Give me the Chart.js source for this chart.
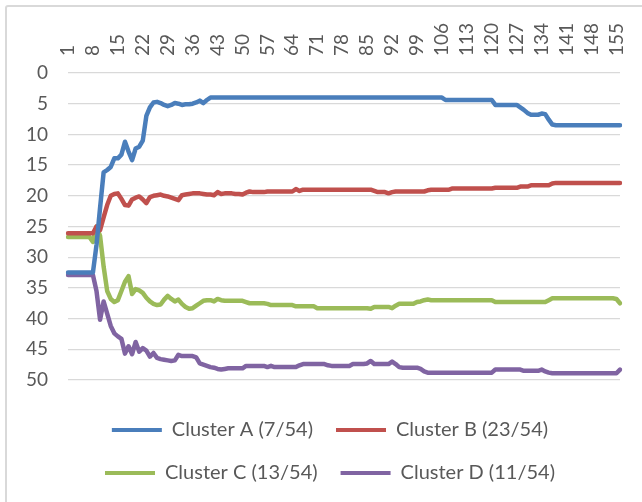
<!DOCTYPE html>
<html>
<head>
<meta charset="utf-8">
<script src="https://cdn.jsdelivr.net/npm/chart.js@4"></script>
<style>
  html, body { margin: 0; padding: 0; background: #fff; overflow: hidden; }
  #frame { position: absolute; left: 5px; top: 5px; width: 700px; height: 600px; border: 2px solid #d9d9d9; border-radius: 3px; }
  #wrap { position: absolute; left: 0; top: 0; width: 642px; height: 502px; }
</style>
</head>
<body>
<div id="frame"></div>
<div id="wrap"><canvas id="rankChart"></canvas></div>
<script>
const categories = Array.from({ length: 156 }, (_, i) => String(i + 1));
const tickLabels = ['1', '8', '15', '22', '29', '36', '43', '50', '57', '64', '71', '78', '85', '92', '99', '106', '113', '120', '127', '134', '141', '148', '155'];

const clusterA = [
  32.5, 32.5, 32.5, 32.5, 32.5, 32.5, 32.5, 32.5, 28, 22, 16.2, 15.8,
  15.3, 13.9, 13.9, 13.3, 11.2, 12.8, 14.2, 12.3, 12.0, 11.0, 7.0, 5.6,
  4.8, 4.7, 4.9, 5.2, 5.4, 5.2, 4.9, 5.0, 5.2, 5.1, 5.1, 5.0,
  4.8, 4.5, 4.9, 4.4, 4.0, 4, 4, 4, 4, 4, 4, 4,
  4, 4, 4, 4, 4, 4, 4, 4, 4, 4, 4, 4,
  4, 4, 4, 4, 4, 4, 4, 4, 4, 4, 4, 4,
  4, 4, 4, 4, 4, 4, 4, 4, 4, 4, 4, 4,
  4, 4, 4, 4, 4, 4, 4, 4, 4, 4, 4, 4,
  4, 4, 4, 4, 4, 4, 4, 4, 4, 4, 4.4, 4.4,
  4.4, 4.4, 4.4, 4.4, 4.4, 4.4, 4.4, 4.4, 4.4, 4.4, 4.4, 4.4,
  5.2, 5.2, 5.2, 5.2, 5.2, 5.2, 5.2, 5.6, 6.0, 6.5, 6.8, 6.8,
  6.8, 6.6, 6.7, 7.6, 8.4, 8.5, 8.5, 8.5, 8.5, 8.5, 8.5, 8.5,
  8.5, 8.5, 8.5, 8.5, 8.5, 8.5, 8.5, 8.5, 8.5, 8.5, 8.5, 8.5
];

const clusterB = [
  26.1, 26.1, 26.1, 26.1, 26.1, 26.1, 26.1, 26.1, 25.0, 25.6, 23.5, 21.5,
  20.0, 19.7, 19.6, 20.5, 21.5, 21.6, 20.6, 20.3, 20.1, 20.6, 21.2, 20.2,
  20.0, 19.9, 19.8, 20.0, 20.1, 20.3, 20.5, 20.7, 19.9, 19.8, 19.7, 19.6,
  19.6, 19.6, 19.7, 19.8, 19.8, 19.9, 19.4, 19.7, 19.6, 19.6, 19.6, 19.7,
  19.7, 19.8, 19.5, 19.3, 19.4, 19.4, 19.4, 19.4, 19.3, 19.3, 19.3, 19.3,
  19.3, 19.3, 19.3, 19.3, 18.9, 19.2, 19.0, 19.0, 19.0, 19.0, 19.0, 19.0,
  19.0, 19.0, 19.0, 19.0, 19.0, 19.0, 19.0, 19.0, 19.0, 19.0, 19.0, 19.0,
  19.0, 19.0, 19.2, 19.4, 19.4, 19.4, 19.6, 19.4, 19.3, 19.3, 19.3, 19.3,
  19.3, 19.3, 19.3, 19.3, 19.3, 19.1, 19.0, 19.0, 19.0, 19.0, 19.0, 19.0,
  18.8, 18.8, 18.8, 18.8, 18.8, 18.8, 18.8, 18.8, 18.8, 18.8, 18.8, 18.8,
  18.7, 18.7, 18.7, 18.7, 18.7, 18.7, 18.7, 18.5, 18.5, 18.5, 18.3, 18.3,
  18.3, 18.3, 18.3, 18.3, 18.0, 17.9, 17.9, 17.9, 17.9, 17.9, 17.9, 17.9,
  17.9, 17.9, 17.9, 17.9, 17.9, 17.9, 17.9, 17.9, 17.9, 17.9, 17.9, 17.9
];

const clusterC = [
  26.7, 26.7, 26.7, 26.7, 26.7, 26.7, 26.7, 27.5, 25.0, 26.5, 31.5, 35.5,
  36.8, 37.3, 37.0, 35.5, 34.0, 33.1, 36.0, 35.2, 35.4, 35.8, 36.6, 37.2,
  37.6, 37.8, 37.7, 36.9, 36.3, 36.8, 37.2, 36.9, 37.6, 38.1, 38.4, 38.3,
  37.9, 37.5, 37.1, 37.0, 37.0, 37.2, 36.8, 37.0, 37.1, 37.1, 37.1, 37.1,
  37.1, 37.1, 37.3, 37.5, 37.5, 37.5, 37.5, 37.5, 37.6, 37.8, 37.8, 37.8,
  37.8, 37.8, 37.8, 37.8, 38.0, 38.0, 38.0, 38.0, 38.0, 38.0, 38.3, 38.3,
  38.3, 38.3, 38.3, 38.3, 38.3, 38.3, 38.3, 38.3, 38.3, 38.3, 38.3, 38.3,
  38.3, 38.4, 38.1, 38.1, 38.1, 38.1, 38.1, 38.3, 37.9, 37.6, 37.6, 37.6,
  37.6, 37.6, 37.3, 37.2, 37.0, 36.9, 37.0, 37.0, 37.0, 37.0, 37.0, 37.0,
  37.0, 37.0, 37.0, 37.0, 37.0, 37.0, 37.0, 37.0, 37.0, 37.0, 37.0, 37.0,
  37.3, 37.3, 37.3, 37.3, 37.3, 37.3, 37.3, 37.3, 37.3, 37.3, 37.3, 37.3,
  37.3, 37.3, 37.3, 37.0, 36.7, 36.7, 36.7, 36.7, 36.7, 36.7, 36.7, 36.7,
  36.7, 36.7, 36.7, 36.7, 36.7, 36.7, 36.7, 36.7, 36.7, 36.7, 36.8, 37.5
];

const clusterD = [
  32.9, 32.9, 32.9, 32.9, 32.9, 32.9, 32.9, 32.9, 35.5, 40.2, 37.2, 39.2,
  41.2, 42.4, 42.9, 43.3, 45.7, 44.5, 45.8, 43.8, 45.4, 44.8, 45.2, 46.2,
  45.6, 46.4, 46.6, 46.7, 46.8, 46.9, 46.8, 45.9, 46.1, 46.1, 46.1, 46.1,
  46.3, 47.3, 47.5, 47.7, 47.9, 48.0, 48.2, 48.3, 48.2, 48.1, 48.1, 48.1,
  48.1, 48.1, 47.7, 47.7, 47.7, 47.7, 47.7, 47.7, 47.9, 47.7, 47.9, 47.9,
  47.9, 47.9, 47.9, 47.9, 47.9, 47.6, 47.4, 47.4, 47.4, 47.4, 47.4, 47.4,
  47.4, 47.6, 47.7, 47.7, 47.7, 47.7, 47.7, 47.7, 47.4, 47.4, 47.4, 47.4,
  47.3, 46.9, 47.4, 47.4, 47.4, 47.4, 47.4, 47.0, 47.4, 47.9, 48.0, 48.0,
  48.0, 48.0, 48.0, 48.2, 48.6, 48.8, 48.8, 48.8, 48.8, 48.8, 48.8, 48.8,
  48.8, 48.8, 48.8, 48.8, 48.8, 48.8, 48.8, 48.8, 48.8, 48.8, 48.8, 48.8,
  48.3, 48.3, 48.3, 48.3, 48.3, 48.3, 48.3, 48.3, 48.5, 48.5, 48.5, 48.5,
  48.5, 48.3, 48.6, 48.8, 48.9, 48.9, 48.9, 48.9, 48.9, 48.9, 48.9, 48.9,
  48.9, 48.9, 48.9, 48.9, 48.9, 48.9, 48.9, 48.9, 48.9, 48.9, 48.9, 48.3
];

const seriesNames = ['Cluster A (7/54)', 'Cluster B (23/54)', 'Cluster C (13/54)', 'Cluster D (11/54)'];
const seriesColors = ['#4a7ebb', '#c0504d', '#9bbb59', '#8064a2'];

const textColor = '#595959';
const tickFont = { family: 'Lato', size: 19 };
const legendFont = { family: 'Lato', size: 20 };

const makeLine = (name, data, color) => ({
  label: name,
  data: data,
  borderColor: color,
  backgroundColor: color,
  borderWidth: 4.5,
  pointRadius: 0,
  tension: 0,
  borderJoinStyle: 'round',
  borderCapStyle: 'round'
});

// legend is centred on the whole canvas, the original sits a bit to the right
const nudgeLegend = {
  id: 'nudgeLegend',
  afterLayout(chart) {
    chart.legend.left += 20;
    chart.legend.right += 20;
  }
};

const ctx = document.getElementById('rankChart').getContext('2d');
new Chart(ctx, {
  type: 'line',
  data: {
    labels: categories,
    datasets: [
      makeLine(seriesNames[0], clusterA, seriesColors[0]),
      makeLine(seriesNames[1], clusterB, seriesColors[1]),
      makeLine(seriesNames[2], clusterC, seriesColors[2]),
      makeLine(seriesNames[3], clusterD, seriesColors[3])
    ]
  },
  plugins: [nudgeLegend],
  options: {
    responsive: true,
    maintainAspectRatio: false,
    animation: false,
    devicePixelRatio: 1,
    layout: { padding: { left: 0, right: 22, top: 0, bottom: 9 } },
    scales: {
      x: {
        position: 'top',
        grid: { display: false, drawTicks: false },
        border: { display: false },
        ticks: {
          autoSkip: false,
          minRotation: 90,
          maxRotation: 90,
          padding: 17,
          labelOffset: 22.8,
          color: textColor,
          font: tickFont,
          callback: function (value) {
            const lab = this.getLabelForValue(value);
            return tickLabels.includes(lab) ? lab : null;
          }
        },
        afterFit: scale => { scale.height = 73; }
      },
      y: {
        reverse: true,
        min: 0,
        max: 50,
        grid: { color: '#d9d9d9', lineWidth: 1.3, drawTicks: false },
        border: { display: false },
        ticks: { stepSize: 5, padding: 20, color: textColor, font: tickFont },
        afterFit: scale => { scale.width = 68; }
      }
    },
    plugins: {
      tooltip: { enabled: false },
      legend: {
        position: 'bottom',
        title: { display: true, text: '', font: { size: 1 }, padding: { top: 15.8, bottom: 0 } },
        labels: {
          boxWidth: 50,
          boxHeight: 4,
          padding: 23,
          color: textColor,
          font: legendFont,
          generateLabels: chart => Chart.defaults.plugins.legend.labels.generateLabels(chart)
            .map(item => Object.assign(item, { lineWidth: 0, fillStyle: item.strokeStyle }))
        }
      }
    }
  }
});
</script>
</body>
</html>
